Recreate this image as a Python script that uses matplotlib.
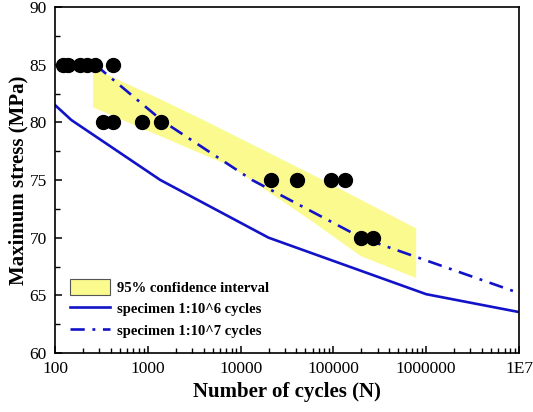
import matplotlib.pyplot as plt
from matplotlib.ticker import FixedLocator, LogLocator, NullFormatter, MultipleLocator
from matplotlib.patches import Patch
from matplotlib.lines import Line2D

# test data (black dots)
test_cycles = [122, 138, 186, 222, 271, 423,
               330, 423, 870, 1400,
               21100, 40300, 94000, 133000,
               198000, 267000]
test_stress = [85, 85, 85, 85, 85, 85,
               80, 80, 80, 80,
               75, 75, 75, 75,
               70, 70]

# specimen 1:10^6 cycles (solid)
s6_cycles = [100, 150, 1365, 20000, 1000000, 10000000]
s6_stress = [81.5, 80.2, 75.0, 70.0, 65.1, 63.55]

# specimen 1:10^7 cycles (dash-dot)
s7_cycles = [271, 1450, 13300, 200000, 10000000]
s7_stress = [85.0, 80.1, 75.0, 70.0, 65.2]

# 95% confidence band
band_top_cycles = [257, 1365, 4200, 65000, 780000]
band_top = [84.7, 82.0, 80.1, 75.3, 70.8]
band_bot_cycles = [257, 1365, 7800, 57000, 198000, 780000]
band_bot = [81.3, 78.8, 76.2, 71.5, 68.4, 66.5]

plt.rcParams["font.family"] = ["Liberation Serif", "DejaVu Serif"]

fig = plt.figure(figsize=(5.33, 4.12), dpi=100)
ax = fig.add_axes([0.1032, 0.1432, 0.8705, 0.8398])

blue = "#1212c8"
yellow = "#fafa8e"
dashdot = (5.4, 2.9, 1.1, 2.9)

poly_x = band_top_cycles + band_bot_cycles[::-1]
poly_y = band_top + band_bot[::-1]
ax.fill(poly_x, poly_y, color=yellow, lw=0, zorder=1)

ax.plot(s6_cycles, s6_stress, color=blue, lw=1.9, zorder=2)
ax.plot(s7_cycles, s7_stress, color=blue, lw=1.9, dashes=dashdot, zorder=2)
ax.plot(test_cycles, test_stress, "o", color="black", ms=10, zorder=3)

ax.set_xscale("log")
ax.set_xlim(100, 1e7)
ax.set_ylim(60, 90)

ax.xaxis.set_major_locator(FixedLocator([1e2, 1e3, 1e4, 1e5, 1e6, 1e7]))
ax.set_xticklabels(["100", "1000", "10000", "100000", "1000000", "1E7"])
ax.xaxis.set_minor_locator(LogLocator(base=10, subs=range(2, 10)))
ax.xaxis.set_minor_formatter(NullFormatter())
ax.yaxis.set_major_locator(MultipleLocator(5))
ax.yaxis.set_minor_locator(MultipleLocator(2.5))

ax.tick_params(which="both", direction="in", top=False, right=False, labelsize=12.5)
ax.tick_params(which="major", length=5, width=1.1)
ax.tick_params(which="minor", length=3.5, width=1.0)
ax.tick_params(axis="x", pad=6)
ax.tick_params(axis="y", pad=6)
for sp in ax.spines.values():
    sp.set_linewidth(1.2)

ax.set_xlabel("Number of cycles (N)", fontsize=15, fontweight="bold", labelpad=3)
ax.set_ylabel("Maximum stress (MPa)", fontsize=15, fontweight="bold", labelpad=1)

handles = [
    Patch(facecolor=yellow, edgecolor="#555555", lw=0.8),
    Line2D([], [], color=blue, lw=1.9),
    Line2D([], [], color=blue, lw=1.9, dashes=dashdot),
]
labels = ["95% confidence interval", "specimen 1:10^6 cycles", "specimen 1:10^7 cycles"]
ax.legend(handles, labels, loc="lower left", bbox_to_anchor=(0.005, 0.005), frameon=False,
          prop={"weight": "bold", "size": 10.5}, handlelength=2.7, handleheight=1.3,
          labelspacing=0.4, handletextpad=0.5, borderaxespad=0.5)

fig.savefig("out.png", dpi=100)
